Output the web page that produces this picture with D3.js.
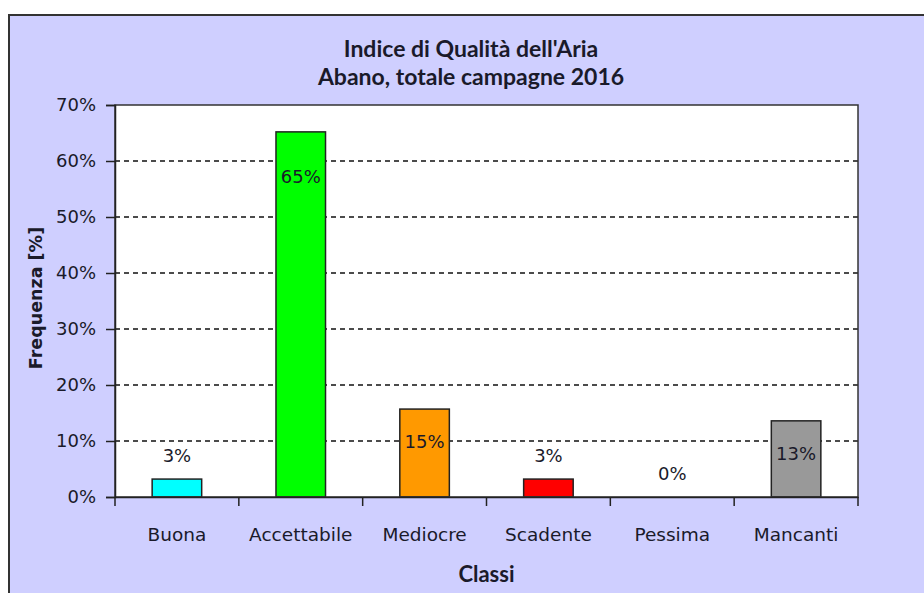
<!DOCTYPE html>
<html><head><meta charset="utf-8">
<script src="https://cdn.jsdelivr.net/npm/d3@7"></script>
<style>body{margin:0;background:#fff;}svg{display:block;}</style>
</head><body>
<svg id="c" width="924" height="593"></svg>
<script>
const categories = ["Buona","Accettabile","Mediocre","Scadente","Pessima","Mancanti"];
const values = [3.2, 65.2, 15.7, 3.2, 0, 13.6];
const valueLabels = ["3%","65%","15%","3%","0%","13%"];
const colors = ["#00FFFF","#00FF00","#FF9900","#FF0000","#800080","#999999"];
const yTicks = [0,10,20,30,40,50,60,70];
const titleLines = ["Indice di Qualità dell'Aria","Abano, totale campagne 2016"];
const xTitle = "Classi";
const yTitle = "Frequenza [%]";

const svg = d3.select("#c");
const L=115, T=105, R=858, B=497;
const txt="#1a1a2a";

svg.append("rect").attr("x",9).attr("y",15).attr("width",940).attr("height",620)
  .attr("fill","#CFCFFF").attr("stroke","#333").attr("stroke-width",2);

const x = d3.scaleBand().domain(categories).range([L,R]).paddingInner(0.6).paddingOuter(0.3);
const y = d3.scaleLinear().domain([0,70]).range([B,T]);

svg.append("rect").attr("x",L).attr("y",T).attr("width",R-L).attr("height",B-T)
  .attr("fill","#fff");

// gridlines
svg.append("g").selectAll("line").data(yTicks.filter(d=>d>0 && d<70)).join("line")
  .attr("x1",L).attr("x2",R).attr("y1",d=>y(d)).attr("y2",d=>y(d))
  .attr("stroke","#111").attr("stroke-width",1.5).attr("stroke-dasharray","5,4");

// bars
svg.append("g").selectAll("rect").data(categories).join("rect")
  .attr("x",d=>x(d)).attr("width",x.bandwidth())
  .attr("y",(d,i)=>y(values[i])).attr("height",(d,i)=>B-y(values[i]))
  .attr("fill",(d,i)=>colors[i]).attr("stroke","#222").attr("stroke-width",1.5);

// plot border
svg.append("rect").attr("x",L).attr("y",T).attr("width",R-L).attr("height",B-T)
  .attr("fill","none").attr("stroke","#333").attr("stroke-width",1.5);

// y axis
const yAxis = svg.append("g").attr("transform",`translate(${L},0)`)
  .call(d3.axisLeft(y).tickValues(yTicks).tickFormat(d=>d+"%").tickSize(9).tickPadding(10));
yAxis.select(".domain").attr("stroke","#222").attr("stroke-width",1.5);
yAxis.selectAll(".tick line").attr("stroke","#222").attr("stroke-width",1.5);
yAxis.selectAll("text").attr("font-family","DejaVu Sans").attr("font-size",18).attr("fill",txt);

// x axis: labels at centers, ticks at boundaries
const xAxis = svg.append("g").attr("transform",`translate(0,${B})`)
  .call(d3.axisBottom(x).tickSize(0).tickPadding(31));
xAxis.select(".domain").attr("stroke","#222").attr("stroke-width",1.5);
xAxis.selectAll("text").attr("font-family","DejaVu Sans").attr("font-size",18.5).attr("fill",txt);
const bounds = d3.range(categories.length+1).map(i=>L+i*x.step());
svg.append("g").selectAll("line").data(bounds).join("line")
  .attr("x1",d=>d).attr("x2",d=>d).attr("y1",B).attr("y2",B+9)
  .attr("stroke","#222").attr("stroke-width",1.5);

// value labels
svg.append("g").selectAll("text").data(categories).join("text")
  .attr("x",d=>x(d)+x.bandwidth()/2)
  .attr("y",(d,i)=> values[i]>10 ? y(values[i])+39+(values[i]>50?12:0) : y(values[i])-17)
  .attr("text-anchor","middle")
  .attr("font-family","DejaVu Sans").attr("font-size",18).attr("fill",txt)
  .text((d,i)=>valueLabels[i]);

// titles
svg.append("g").selectAll("text").data(titleLines).join("text")
  .attr("x",471).attr("y",(d,i)=>57+i*28).attr("text-anchor","middle")
  .attr("font-family","Lato").attr("font-weight","bold").attr("font-size",23).attr("fill",txt)
  .text(d=>d);
svg.append("text").attr("x",(L+R)/2).attr("y",582).attr("text-anchor","middle")
  .attr("font-family","Lato").attr("font-weight","bold").attr("font-size",22).attr("fill",txt)
  .text(xTitle);
svg.append("text").attr("transform",`translate(42,${(T+B)/2-3}) rotate(-90)`)
  .attr("text-anchor","middle")
  .attr("font-family","DejaVu Sans").attr("font-weight","bold").attr("font-size",17.5).attr("fill",txt)
  .text(yTitle);
</script>
</body></html>
